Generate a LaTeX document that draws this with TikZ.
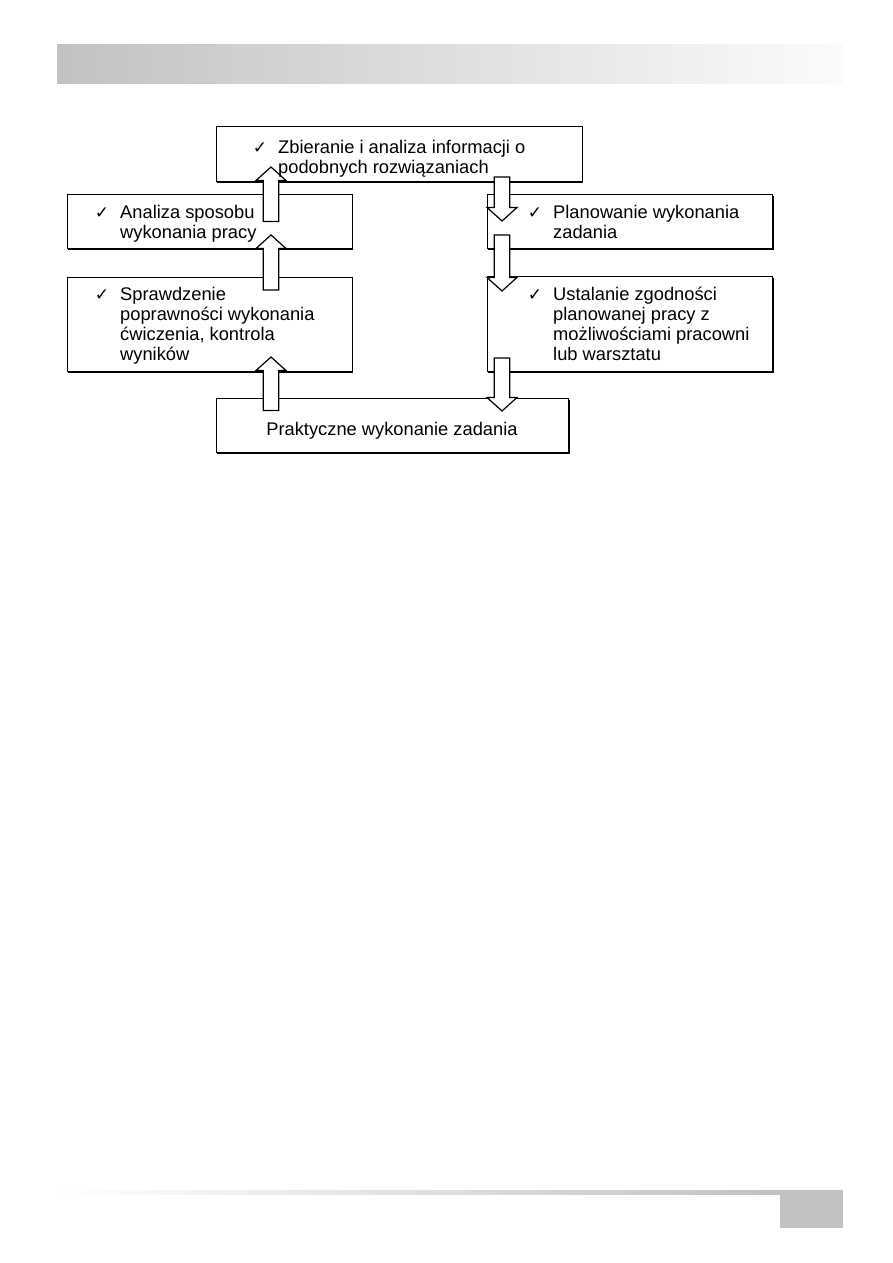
\documentclass[tikz,border=0pt]{standalone}
\usepackage{fontspec}
\setmainfont{Liberation Sans}
\newfontfamily\checkf{DejaVu Sans}
\usetikzlibrary{calc,shadows}
\tikzset{
  box/.style={draw=black, line width=1.3pt, fill=white, inner sep=0pt, anchor=north west,
    drop shadow={shadow xshift=1.1pt, shadow yshift=-1.1pt, fill=black, opacity=1}},
  barrow/.style={draw=black, line width=1.2pt, fill=white, line join=miter},
  txt/.style={inner sep=0pt, anchor=north west, align=left,
    font=\fontsize{18.3}{20}\selectfont},
}
\newcommand{\ck}{\llap{{\checkf\fontsize{17}{17}\selectfont ✓}\hspace{11pt}}}
\newcommand{\blockarrow}[2]{%
  \draw[barrow] let \p1=(#1), \p2=(#2), \n2={\y2-sign(\y2-\y1)*13.5} in
    (\x1-7.7pt,\y1) -- ({\x1-7.7pt},{\n2*1pt}) -- ({\x1-15pt},{\n2*1pt}) -- (\x2,\y2)
    -- ({\x1+15pt},{\n2*1pt}) -- ({\x1+7.7pt},{\n2*1pt}) -- (\x1+7.7pt,\y1) -- cycle;}
\begin{document}
\begin{tikzpicture}[x=1pt,y=-1pt]
\fill[white] (0,0) rectangle (893,1263);
\useasboundingbox (0,0) rectangle (893,1263);
% header and footer
\shade[left color=black!24, right color=black!1.5] (57,45) rectangle (843,83);
\shade[left color=white, right color=black!24] (57,1190) rectangle (780,1194);
\fill[black!24] (780,1190) rectangle (843,1228);
% boxes
\node[box, minimum width=366pt, minimum height=55pt] (top) at (215.5,126) {};
\node[box, minimum width=285pt, minimum height=54.5pt] (anal) at (66.5,193.5) {};
\node[box, minimum width=285.3pt, minimum height=54pt] (plan) at (486.7,194) {};
\node[box, minimum width=285pt, minimum height=94pt] (spr) at (66.5,277) {};
\node[box, minimum width=285.3pt, minimum height=95pt] (ust) at (486.7,276) {};
\node[box, minimum width=352.5pt, minimum height=54pt] (prak) at (215.5,398) {};
% arrow end points
\coordinate (a1s) at (271,221.5); \coordinate (a1t) at (271,167);
\coordinate (a2s) at (271,290);   \coordinate (a2t) at (271,235);
\coordinate (a3s) at (271,410.5); \coordinate (a3t) at (271,357);
\coordinate (d1s) at (502,177);   \coordinate (d1t) at (502,221);
\coordinate (d2s) at (502,235);   \coordinate (d2t) at (502,291);
\coordinate (d3s) at (502,358);   \coordinate (d3t) at (502,411);
\blockarrow{a1s}{a1t}
\blockarrow{a2s}{a2t}
\blockarrow{a3s}{a3t}
\blockarrow{d1s}{d1t}
\blockarrow{d2s}{d2t}
\blockarrow{d3s}{d3t}
% texts
\node[txt] (ttop) at (278,139) {\strut\ck Zbieranie i analiza informacji o\\podobnych rozwiązaniach};
\node[txt] (tanal) at (120,204) {\strut\ck Analiza sposobu\\wykonania pracy};
\node[txt] (tplan) at (553,204) {\strut\ck Planowanie wykonania\\zadania};
\node[txt] (tspr) at (120,286) {\strut\ck Sprawdzenie\\poprawności wykonania\\ćwiczenia, kontrola\\wyników};
\node[txt] (tust) at (553,286) {\strut\ck Ustalanie zgodności\\planowanej pracy z\\możliwościami pracowni\\lub warsztatu};
\node[inner sep=0pt, anchor=base, font=\fontsize{18.3}{20}\selectfont] (tprak) at (392,435) {Praktyczne wykonanie zadania};
\end{tikzpicture}
\end{document}
